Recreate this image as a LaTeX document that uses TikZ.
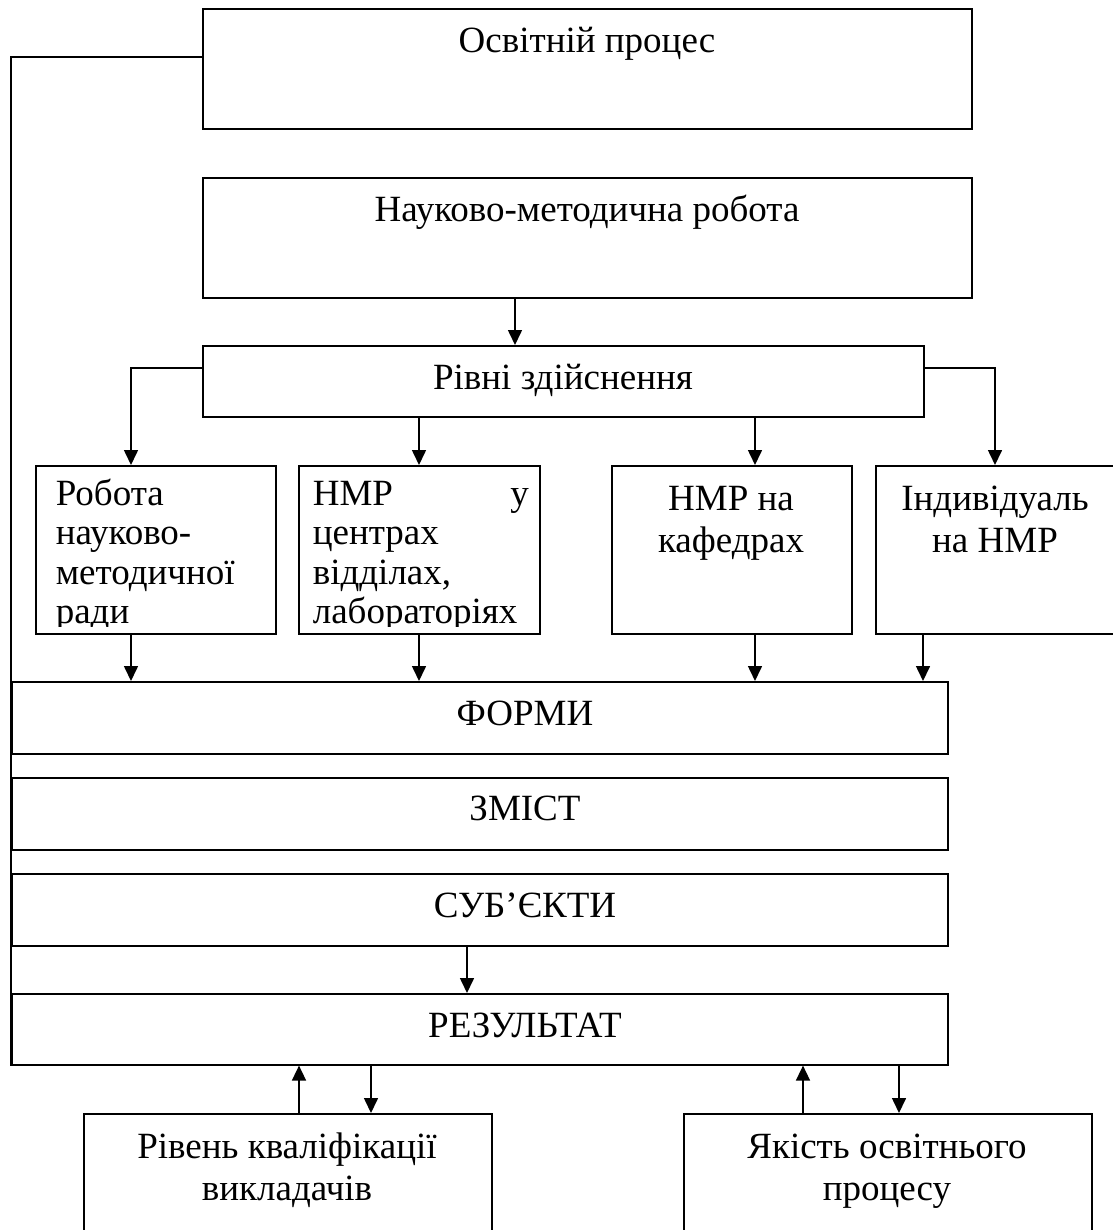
\documentclass[tikz,border=0pt]{standalone}
\usepackage{fontspec}
\setmainfont{Liberation Serif}
\usetikzlibrary{arrows.meta}
\begin{document}
\begin{tikzpicture}[x=1pt,y=-1pt, line width=1.6pt,
  box/.style={draw, inner sep=0pt, anchor=north west},
  arr/.style={-{Triangle[width=14pt,length=15pt]}},
  txt/.style={inner sep=0pt, font=\fontsize{37}{39.5}\selectfont},
  txtc/.style={txt, anchor=base},
  txtl/.style={txt, anchor=base west},
  wide/.style={font=\fontsize{37}{42}\selectfont}]
\useasboundingbox (0,0) rectangle (1112,1230);
% boxes
\node[box, minimum width=769pt, minimum height=120pt] (osv) at (202,8) {};
\node[box, minimum width=769pt, minimum height=120pt] (nmr) at (202,177) {};
\node[box, minimum width=721pt, minimum height=71pt] (rivni) at (202,345) {};
\node[box, minimum width=240pt, minimum height=168pt] (rob) at (35,465) {};
\node[box, minimum width=241pt, minimum height=168pt] (cent) at (298,465) {};
\node[box, minimum width=240pt, minimum height=168pt] (kaf) at (611,465) {};
\node[box, minimum width=240pt, minimum height=168pt] (ind) at (875,465) {};
\node[box, minimum width=936pt, minimum height=72pt] (form) at (11,681) {};
\node[box, minimum width=936pt, minimum height=72pt] (zmist) at (11,777) {};
\node[box, minimum width=936pt, minimum height=72pt] (sub) at (11,873) {};
\node[box, minimum width=936pt, minimum height=71pt] (res) at (11,993) {};
\node[box, minimum width=408pt, minimum height=140pt] (kval) at (83,1113) {};
\node[box, minimum width=408pt, minimum height=140pt] (yak) at (683,1113) {};
% helper coordinates
\coordinate (fb) at (11,57);
\coordinate (yb) at (0,368);
\coordinate (yc) at (0,626);
\coordinate (c0) at (515,0);
\coordinate (c1) at (131,0);
\coordinate (c2) at (419,0);
\coordinate (c3) at (755,0);
\coordinate (c4) at (923,0);
\coordinate (c5) at (995,0);
\coordinate (c6) at (467,0);
\coordinate (c7) at (299,0);
\coordinate (c8) at (371,0);
\coordinate (c9) at (803,0);
\coordinate (c10) at (899,0);
% texts
\node[txtc] (osvt) at (587,53) {Освітній процес};
\node[txtc] (nmrt) at (587,222) {Науково-методична робота};
\node[txtc] (rivt) at (563,389) {Рівні здійснення};
\begin{scope}
\clip (rob.north west) rectangle (rob.east |- yc);
\node[txtl] (robt) at (55,505) {\begin{tabular}[t]{@{}l@{}}Робота\\науково-\\методичної\\ради\end{tabular}};
\end{scope}
\begin{scope}
\clip (cent.north west) rectangle (cent.east |- yc);
\node[txtl] (centt) at (312,505) {\begin{tabular}[t]{@{}l@{}}\makebox[216pt][l]{НМР\hfill у}\\центрах\\відділах,\\лабораторіях\end{tabular}};
\end{scope}
\node[txtc, wide] (kaft) at (731,510) {\begin{tabular}[t]{@{}c@{}}НМР на\\кафедрах\end{tabular}};
\node[txtc, wide] (indt) at (995,510) {\begin{tabular}[t]{@{}c@{}}Індивідуаль\\на НМР\end{tabular}};
\node[txtc] (formt) at (525,725) {ФОРМИ};
\node[txtc] (zmistt) at (525,820) {ЗМІСТ};
\node[txtc] (subt) at (525,917) {СУБ’ЄКТИ};
\node[txtc] (rest) at (525,1037) {РЕЗУЛЬТАТ};
\node[txtc, wide] (kvalt) at (287,1158) {\begin{tabular}[t]{@{}c@{}}Рівень кваліфікації\\викладачів\end{tabular}};
\node[txtc, wide] (yakt) at (887,1158) {\begin{tabular}[t]{@{}c@{}}Якість освітнього\\процесу\end{tabular}};
% connectors
\draw (osv.west |- fb) -- (fb) -- (res.south west);
\draw[arr] (nmr.south -| c0) -- (rivni.north -| c0);
\draw[arr] (rivni.west |- yb) -| (rob.north -| c1);
\draw[arr] (rivni.east |- yb) -| (ind.north -| c5);
\draw[arr] (rivni.south -| c2) -- (cent.north -| c2);
\draw[arr] (rivni.south -| c3) -- (kaf.north -| c3);
\draw[arr] (rob.south -| c1) -- (form.north -| c1);
\draw[arr] (cent.south -| c2) -- (form.north -| c2);
\draw[arr] (kaf.south -| c3) -- (form.north -| c3);
\draw[arr] (ind.south -| c4) -- (form.north -| c4);
\draw[arr] (sub.south -| c6) -- (res.north -| c6);
\draw[arr] (kval.north -| c7) -- (res.south -| c7);
\draw[arr] (res.south -| c8) -- (kval.north -| c8);
\draw[arr] (yak.north -| c9) -- (res.south -| c9);
\draw[arr] (res.south -| c10) -- (yak.north -| c10);
\end{tikzpicture}
\end{document}
